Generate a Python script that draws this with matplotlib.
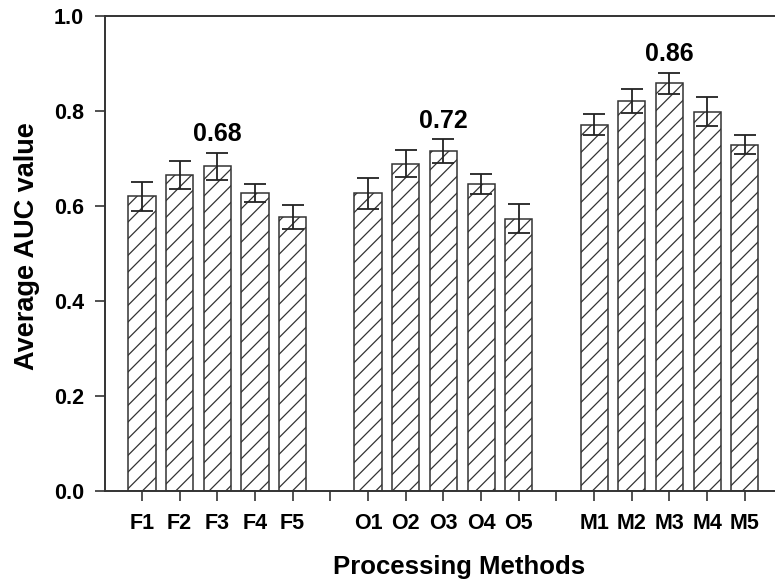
import numpy as np
import matplotlib
matplotlib.use("Agg")
import matplotlib.pyplot as plt

plt.rcParams["font.family"] = ["Liberation Sans", "DejaVu Sans"]
plt.rcParams["font.weight"] = "bold"
plt.rcParams["hatch.linewidth"] = 0.9

# data
groups = ["F", "O", "M"]
labels = ["F1", "F2", "F3", "F4", "F5",
          "O1", "O2", "O3", "O4", "O5",
          "M1", "M2", "M3", "M4", "M5"]
auc = [0.620, 0.665, 0.683, 0.627, 0.577,
       0.626, 0.689, 0.715, 0.646, 0.573,
       0.771, 0.821, 0.858, 0.798, 0.729]
err = [0.031, 0.030, 0.029, 0.019, 0.025,
       0.033, 0.029, 0.025, 0.021, 0.030,
       0.023, 0.025, 0.022, 0.031, 0.019]
best = {"F3": "0.68", "O3": "0.72", "M3": "0.86"}

# positions: 5 bars per group, one empty slot between groups
pos = []
for g in range(len(groups)):
    pos += [g * 6 + i for i in range(5)]
pos = np.array(pos)

fig = plt.figure(figsize=(7.75, 5.83), dpi=100)
ax = fig.add_axes([0.1355, 0.158, 0.8645, 0.815])

ax.bar(pos, auc, width=0.72, color="white", edgecolor="#333333",
       linewidth=1.1, hatch="//", zorder=2)
ax.errorbar(pos, auc, yerr=err, fmt="none", ecolor="#222222",
            elinewidth=1.3, capsize=8, capthick=1.3, zorder=3)

for p, lab, v, e in zip(pos, labels, auc, err):
    if lab in best:
        ax.text(p, v + e + 0.014, best[lab], ha="center", va="bottom",
                fontsize=18, fontweight="bold")

ax.set_xlim(-0.98, 16.8)
ax.set_ylim(0, 1.0)
ax.set_xticks(np.arange(17))
ticklabels = [""] * 17
for p, lab in zip(pos, labels):
    ticklabels[p] = lab
ax.set_xticklabels(ticklabels)
ax.set_yticks(np.arange(0, 1.01, 0.2))
ax.set_yticklabels([f"{t:.1f}" for t in np.arange(0, 1.01, 0.2)])

ax.tick_params(axis="both", direction="out", length=7, width=1.2,
               color="#333333", labelsize=15.5)
ax.tick_params(axis="x", pad=9)
ax.tick_params(axis="y", pad=8)
for t in ax.get_xticklabels() + ax.get_yticklabels():
    t.set_fontweight("bold")

ax.spines["right"].set_visible(False)
for s in ["left", "top", "bottom"]:
    ax.spines[s].set_color("#333333")
    ax.spines[s].set_linewidth(1.4)

ax.set_xlabel("Processing Methods", fontsize=18.5, fontweight="bold",
              labelpad=15, x=0.529, ha="center")
ax.set_ylabel("Average AUC value", fontsize=19.5, fontweight="bold",
              labelpad=10, y=0.516, ha="center")

fig.savefig("out.png", dpi=100)
